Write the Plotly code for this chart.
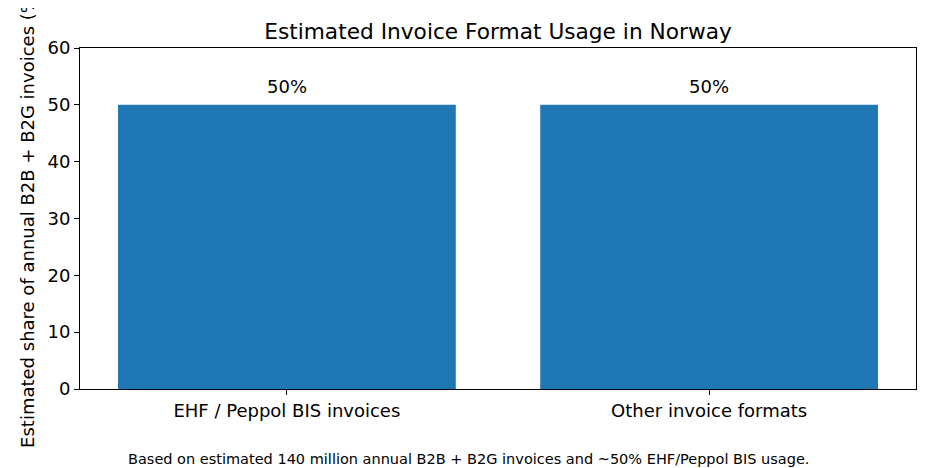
import plotly.graph_objects as go

categories = ["EHF / Peppol BIS invoices", "Other invoice formats"]
shares = [50, 50]
bar_labels = ["50%", "50%"]
y_ticks = [0, 10, 20, 30, 40, 50, 60]

# The page body has an 8px margin; compensate so the plot lands where the reference has it.
OFF = 8
W, H = 936 - OFF, 468 - OFF
ML, MR, MT, MB = 80 - OFF, 20, 48 - OFF, 79
FONT = "DejaVu Sans"

fig = go.Figure()
fig.add_trace(go.Bar(
    x=[0, 1], y=shares, width=0.8,
    marker=dict(color="#1f77b4", line=dict(width=0)),
    hoverinfo="skip",
))
for i, (v, lab) in enumerate(zip(shares, bar_labels)):
    fig.add_annotation(
        x=i, y=v, xref="x", yref="y", text=lab, showarrow=False,
        xanchor="center", yanchor="bottom", yshift=6,
        font=dict(family=FONT, size=18, color="black"),
    )

fig.update_layout(
    width=W, height=H,
    margin=dict(l=ML, r=MR, t=MT, b=MB, pad=0),
    paper_bgcolor="white", plot_bgcolor="white",
    font=dict(family=FONT, size=18, color="black"),
    showlegend=False,
    title=dict(text="Estimated Invoice Format Usage in Norway",
               x=0.5, xref="paper", xanchor="center",
               y=1 - (31 - OFF) / H, yref="container", yanchor="middle",
               font=dict(family=FONT, size=21.7, color="black")),
)
fig.update_xaxes(
    range=[-0.49, 1.49],
    tickmode="array", tickvals=[0, 1], ticktext=categories,
    ticks="outside", ticklen=5, tickwidth=1, tickcolor="black",
    showline=True, linecolor="black", linewidth=1, mirror=True,
    showgrid=False, zeroline=False,
    tickfont=dict(family=FONT, size=18, color="black"),
)
fig.update_yaxes(
    range=[0, 60],
    tickmode="array", tickvals=y_ticks, ticktext=[str(v) for v in y_ticks],
    ticks="outside", ticklen=5, tickwidth=1, tickcolor="black",
    showline=True, linecolor="black", linewidth=1, mirror=True,
    showgrid=False, zeroline=False,
    tickfont=dict(family=FONT, size=18, color="black"),
    title=dict(text="Estimated share of annual B2B + B2G invoices (%)",
               font=dict(family=FONT, size=18, color="black"), standoff=8),
)
fig.add_annotation(
    text="Based on estimated 140 million annual B2B + B2G invoices and ~50% EHF/Peppol BIS usage.",
    xref="paper", yref="paper",
    x=(468 - 80) / (916 - 80), xanchor="center",
    y=-(459 - 389) / (389 - 48), yanchor="middle",
    showarrow=False,
    font=dict(family=FONT, size=14.5, color="black"),
)

fig.write_html("out.html")
